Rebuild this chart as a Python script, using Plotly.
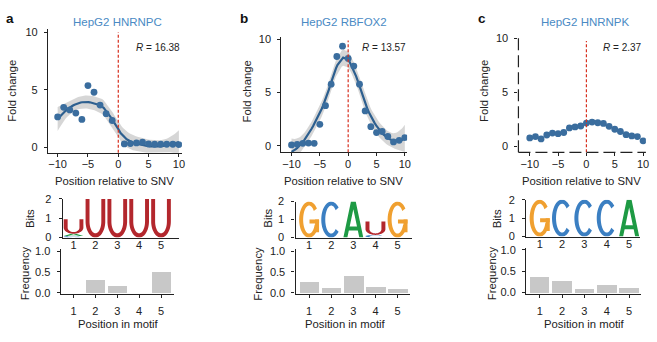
import numpy as np
import plotly.graph_objects as go

W, H = 657, 342

# ---- data ----------------------------------------------------------------
positions = list(range(-10, 11))
fold_hnrnpc = [2.64, 3.47, 3.25, 2.97, 2.42, 5.36, 4.78, 3.67, 2.92, 2.33, None,
               0.30, 0.33, 0.38, 0.45, 0.30, 0.27, 0.27, 0.27, 0.27, 0.24]
fold_rbfox2 = [0.09, 0.15, 0.24, 0.27, 0.24, 2.02, 3.77, 5.78, 8.37, 9.34, 8.19,
               7.47, 5.78, 3.28, 1.80, 1.25, 1.35, 0.88, 0.37, 0.52, 0.78]
fold_hnrnpk = [0.80, 0.92, 0.71, 1.07, 1.25, 1.19, 1.30, 1.72, 1.81, 1.90, 2.17,
               2.26, 2.20, 2.14, 1.87, 1.60, 1.39, 1.10, 0.98, 0.92, 0.53]
titles = ["HepG2 HNRNPC", "HepG2 RBFOX2", "HepG2 HNRNPK"]
r_values = [16.38, 13.57, 2.37]
panel_labels = ["a", "b", "c"]
show_smooth = [True, True, False]

motif_pos = [1, 2, 3, 4, 5]
# stacked letters per motif position, bottom to top: (letter, bits)
logo_hnrnpc = [[("C", 0.08), ("A", 0.12), ("U", 0.75)], [("U", 2.0)], [("U", 2.0)],
               [("U", 2.0)], [("U", 2.0)]]
logo_rbfox2 = [[("G", 2.0)], [("C", 2.0)], [("A", 2.0)],
               [("C", 0.15), ("U", 0.75)], [("G", 2.0)]]
logo_hnrnpk = [[("G", 2.0)], [("C", 2.0)], [("C", 2.0)], [("C", 2.0)], [("A", 2.0)]]
freq_hnrnpc = [0.0, 0.32, 0.17, 0.0, 0.49]
freq_rbfox2 = [0.25, 0.115, 0.41, 0.15, 0.09]
freq_hnrnpk = [0.36, 0.265, 0.076, 0.18, 0.106]

folds = [fold_hnrnpc, fold_rbfox2, fold_hnrnpk]
logos = [logo_hnrnpc, logo_rbfox2, logo_hnrnpk]
freqs = [freq_hnrnpc, freq_rbfox2, freq_hnrnpk]

# ---- styling -------------------------------------------------------------
FONT = "Liberation Sans, Arial, Helvetica, sans-serif"
INK = "#222222"
DOT = "#3a6d9e"
FIT = "#2d5f8f"
TITLE_BLUE = "#4a8ac4"
LETTER_COL = {"A": "#1e9a44", "C": "#3b7fc2", "G": "#f0a030", "U": "#b3272d"}


def lin(p0, p1, v0, v1):
    s = (p1 - p0) / (v1 - v0)
    return lambda v: p0 + (v - v0) * s


def xdom(spec):
    p0, p1, v0, v1, lo, hi = spec
    f = lin(p0, p1, v0, v1)
    return [f(lo) / W, f(hi) / W]


def ydom(spec):
    p0, p1, v0, v1, lo, hi = spec
    f = lin(p0, p1, v0, v1)
    return [1 - f(lo) / H, 1 - f(hi) / H]


scatter_specs = [
    dict(x=(58, 180, -10, 10, -11.6, 10.5), y=(146.5, 27, 0, 10, -0.46, 10.3)),
    dict(x=(293.3, 407.3, -10, 10, -11.8, 10.4), y=(145, 34.3, 0, 10, -0.6, 10.2)),
    dict(x=(533, 647, -10, 10, -12.0, 10.5), y=(145.7, 33.3, 0, 10, -0.53, 10.05)),
]
logo_specs = [
    dict(x=(74, 162, 1, 5, 0.5, 5.8), y=(240, 200, 0, 2, 0, 2.0)),
    dict(x=(311, 400, 1, 5, 0.385, 5.67), y=(240, 202.7, 0, 2, 0, 2.0)),
    dict(x=(543, 633, 1, 5, 0.39, 5.49), y=(239, 200.7, 0, 2, 0, 2.0)),
]
freq_specs = [
    dict(x=(74, 162, 1, 5, 0.41, 5.59), y=(297.3, 254, 0, 1, -0.03, 1.05)),
    dict(x=(311, 400, 1, 5, 0.385, 5.58), y=(297.3, 254, 0, 1, -0.03, 1.05)),
    dict(x=(543, 633, 1, 5, 0.39, 5.53), y=(296.7, 252.7, 0, 1, -0.03, 1.05)),
]


# ---- loess smoother (local quadratic, tricube weights) -------------------
def loess_smooth(x, y, xe, span=0.75):
    x = np.asarray(x, float)
    y = np.asarray(y, float)
    n = len(x)
    q = int(np.floor(n * span))

    def weights_row(x0):
        d = np.abs(x - x0)
        h = np.sort(d)[q - 1] * 1.0001
        u = d / h
        w = np.where(u < 1, (1 - u ** 3) ** 3, 0.0)
        X = np.column_stack([np.ones(n), x - x0, (x - x0) ** 2])
        XtW = X.T * w
        return np.linalg.solve(XtW @ X, XtW)[0]

    L = np.array([weights_row(v) for v in x])
    Le = np.array([weights_row(v) for v in xe])
    R = np.eye(n) - L
    RtR = R.T @ R
    d1 = np.trace(RtR)
    d2 = np.trace(RtR @ RtR)
    sigma = np.sqrt(np.sum((R @ y) ** 2) / d1)
    df = d1 ** 2 / d2
    z = 1.959964
    t = (z + (z ** 3 + z) / (4 * df) + (5 * z ** 5 + 16 * z ** 3 + 3 * z) / (96 * df ** 2)
         + (3 * z ** 7 + 19 * z ** 5 + 17 * z ** 3 - 15 * z) / (384 * df ** 3))
    fit = Le @ y
    se = sigma * np.sqrt(np.sum(Le ** 2, axis=1))
    return fit, fit - t * se, fit + t * se


# ---- letter glyphs in a unit box ----------------------------------------
TX, TY = 0.2, 0.11


def arc(cx, cy, rx, ry, a0, a1, n=40):
    t = np.radians(np.linspace(a0, a1, n))
    return list(zip(cx + rx * np.cos(t), cy + ry * np.sin(t)))


def glyph(letter):
    if letter == "U":
        r = 0.42
        return [[(0, 1), (0, r)] + arc(0.5, r, 0.5, r, 180, 360)
                + [(1, r), (1, 1), (1 - TX, 1), (1 - TX, r)]
                + arc(0.5, r, 0.5 - TX, r - TY, 360, 180) + [(TX, r), (TX, 1)]]
    if letter == "C":
        return [arc(0.5, 0.5, 0.5, 0.5, 42, 318) + arc(0.5, 0.5, 0.5 - TX, 0.5 - TY, 318, 42)]
    if letter == "G":
        ring = arc(0.5, 0.5, 0.5, 0.5, 38, 340) + arc(0.5, 0.5, 0.5 - TX, 0.5 - TY, 340, 38)
        stem = [(1 - TX, 0.15), (1, 0.15), (1, 0.5), (1 - TX, 0.5)]
        bar = [(0.52, 0.5 - TY), (1, 0.5 - TY), (1, 0.5), (0.52, 0.5)]
        return [ring, stem, bar]
    if letter == "A":
        ia = (0.5 - TX) / 0.38
        legs = [(0, 0), (0.38, 1), (0.62, 1), (1, 0), (1 - TX, 0), (0.5, ia), (TX, 0)]
        bar = [(0.2, 0.2), (0.8, 0.2), (0.8, 0.2 + TY), (0.2, 0.2 + TY)]
        return [legs, bar]
    return []


LETTER_W = 0.9

fig = go.Figure()
shapes = []
annotations = []
layout = {}


def ann(text, px, py, size=11, color=INK, **kw):
    d = dict(text=text, x=px / W, y=1 - py / H, xref="paper", yref="paper",
             showarrow=False, xanchor="center", yanchor="middle",
             font=dict(family=FONT, size=size, color=color))
    d.update(kw)
    annotations.append(d)


def axis_common(size=11):
    return dict(showgrid=False, zeroline=False, tickfont=dict(family=FONT, size=size, color=INK),
                linecolor=INK, linewidth=1.2, tickcolor=INK, tickwidth=1.2, ticklen=3,
                fixedrange=True)


for k in range(3):
    # --- fold-change scatter ---
    ia = k + 1
    sx, sy = scatter_specs[k]["x"], scatter_specs[k]["y"]
    xk = "xaxis" if ia == 1 else f"xaxis{ia}"
    yk = "yaxis" if ia == 1 else f"yaxis{ia}"
    xr = "x" if ia == 1 else f"x{ia}"
    yr = "y" if ia == 1 else f"y{ia}"
    dashed = k == 2
    layout[xk] = dict(axis_common(), domain=xdom(sx), range=[sx[4], sx[5]], anchor=yr,
                      tickvals=[-10, -5, 0, 5, 10], ticks="outside", showline=not dashed,
                      ticklabelstandoff=-2)
    layout[yk] = dict(axis_common(), domain=ydom(sy), range=[sy[4], sy[5]], anchor=xr,
                      tickvals=[0, 5, 10], ticks="outside", showline=not dashed,
                      ticklabelstandoff=4)

    xs = [p for p, v in zip(positions, folds[k]) if v is not None]
    ys = [v for v in folds[k] if v is not None]
    if show_smooth[k]:
        xe = np.linspace(min(xs), max(xs), 80)
        fit, lo, hi = loess_smooth(xs, ys, xe)
        fig.add_trace(go.Scatter(x=np.concatenate([xe, xe[::-1]]), y=np.concatenate([hi, lo[::-1]]),
                                 fill="toself", fillcolor="rgba(153,153,153,0.4)", mode="lines",
                                 line=dict(width=0), xaxis=xr, yaxis=yr, hoverinfo="skip"))
        fig.add_trace(go.Scatter(x=xe, y=fit, mode="lines", line=dict(color=FIT, width=2.2),
                                 xaxis=xr, yaxis=yr, hoverinfo="skip"))
    fig.add_trace(go.Scatter(x=xs, y=ys, mode="markers", marker=dict(color=DOT, size=6.8),
                             xaxis=xr, yaxis=yr))

    # SNV position marker
    shapes.append(dict(type="line", xref=xr, yref=f"{yr} domain", x0=0, x1=0, y0=0, y1=0.97,
                       line=dict(color="#d7301f", width=1.2, dash="3px,2px")))
    if dashed:
        for (x0, y0, x1, y1) in [(0, 0, 1, 0), (0, 0, 0, 1)]:
            shapes.append(dict(type="line", xref=f"{xr} domain", yref=f"{yr} domain",
                               x0=x0, y0=y0, x1=x1, y1=y1,
                               line=dict(color=INK, width=1.2, dash="12px,5px")))

    # --- sequence logo ---
    il = k + 4
    lx, ly = logo_specs[k]["x"], logo_specs[k]["y"]
    layout[f"xaxis{il}"] = dict(axis_common(), domain=xdom(lx), range=[lx[4], lx[5]],
                                anchor=f"y{il}", tickvals=motif_pos, ticks="", showline=True,
                                ticklabelstandoff=-3)
    layout[f"yaxis{il}"] = dict(axis_common(), domain=ydom(ly), range=[ly[4], ly[5]],
                                anchor=f"x{il}", tickvals=[0, 1, 2], ticks="outside", showline=True,
                                ticklabelstandoff=5)
    for pos, stack in zip(motif_pos, logos[k]):
        base = 0.0
        for letter, bits in stack:
            for poly in glyph(letter):
                pts = [(pos - LETTER_W / 2 + u * LETTER_W, base + v * bits) for u, v in poly]
                path = "M " + " L ".join(f"{a:.4f},{b:.4f}" for a, b in pts) + " Z"
                shapes.append(dict(type="path", path=path, xref=f"x{il}", yref=f"y{il}",
                                   fillcolor=LETTER_COL[letter], line=dict(width=0), layer="above"))
            base += bits
    # empty trace so the logo axes render
    fig.add_trace(go.Scatter(x=[None], y=[None], xaxis=f"x{il}", yaxis=f"y{il}"))

    # --- frequency bars ---
    ib = k + 7
    bx, by = freq_specs[k]["x"], freq_specs[k]["y"]
    layout[f"xaxis{ib}"] = dict(axis_common(), domain=xdom(bx), range=[bx[4], bx[5]],
                                anchor=f"y{ib}", tickvals=motif_pos, ticks="outside", showline=True,
                                ticklabelstandoff=4)
    layout[f"yaxis{ib}"] = dict(axis_common(), domain=ydom(by), range=[by[4], by[5]],
                                anchor=f"x{ib}", tickvals=[0, 0.5, 1], ticktext=["0.0", "0.5", "1.0"],
                                ticks="outside", showline=True, ticklabelstandoff=4)
    fig.add_trace(go.Bar(x=motif_pos, y=freqs[k], width=0.88, marker=dict(color="#c8c8c8", line=dict(width=0)),
                         xaxis=f"x{ib}", yaxis=f"y{ib}"))

# ---- text ---------------------------------------------------------------
title_x = [118.5, 346.3, 589]
label_x = [10, 245, 485]
fold_lab_x = [12, 248, 487]
pos_lab_x = [115.5, 346, 585.5]
r_right = [183, 411, 648]
bits_x = [30, 270, 500]
freq_lab_x = [25, 260, 495]
motif_lab_x = [119, 348, 588]

for k in range(3):
    ann(f"<b>{panel_labels[k]}</b>", label_x[k], 13, size=13.5, color="#111111")
    ann(titles[k], title_x[k], 16.7, size=11.5, color=TITLE_BLUE)
    ann(f"<i>R</i> = {r_values[k]:.2f}", r_right[k], 43.3, size=10, xanchor="right")
    ann("Fold change", fold_lab_x[k], 88, size=11.3, textangle=-90)
    ann("Position relative to SNV", pos_lab_x[k], 181.7, size=11.3)
    ann("Bits", bits_x[k], 220, size=11.3, textangle=-90)
    ann("Frequency", freq_lab_x[k], 277, size=11.3, textangle=-90)
    ann("Position in motif", motif_lab_x[k], 330, size=11.3)

fig.update_layout(
    width=W, height=H, margin=dict(l=0, r=0, t=0, b=0),
    paper_bgcolor="white", plot_bgcolor="white", showlegend=False, hovermode=False,
    font=dict(family=FONT, color=INK), shapes=shapes, annotations=annotations, bargap=0,
    **layout,
)

fig.write_html("out.html", config={"displayModeBar": False})
